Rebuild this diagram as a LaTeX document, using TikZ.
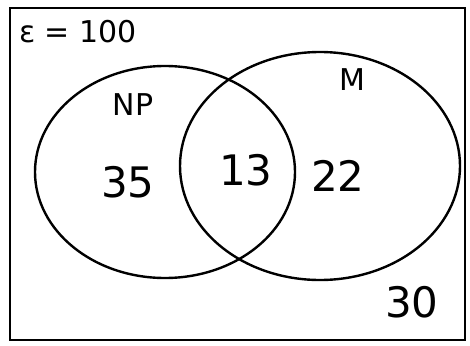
\documentclass[tikz,border=0pt]{standalone}
\usepackage{fontspec}
\setmainfont{DejaVu Sans}
\begin{document}
\begin{tikzpicture}[x=1pt,y=-1pt,
  line/.style={line width=2.4pt,black},
  lbl/.style={font=\fontsize{30}{32}\selectfont},
  num/.style={font=\fontsize{42}{44}\selectfont}]
\useasboundingbox (0,0) rectangle (470,345);
\draw[line] (10,8) rectangle (465,340);
\draw[line] (165,172) ellipse [x radius=130, y radius=106];
\draw[line] (320,166) ellipse [x radius=140, y radius=114];
\node[lbl] (univ) at (78,32) {ε = 100};
\node[lbl] (np) at (133,105) {NP};
\node[lbl] (m) at (352,80) {M};
\node[num] (a) at (128,182) {35};
\node[num] (b) at (246,170) {13};
\node[num] (c) at (338,176) {22};
\node[num] (d) at (412,302) {30};
\end{tikzpicture}
\end{document}
